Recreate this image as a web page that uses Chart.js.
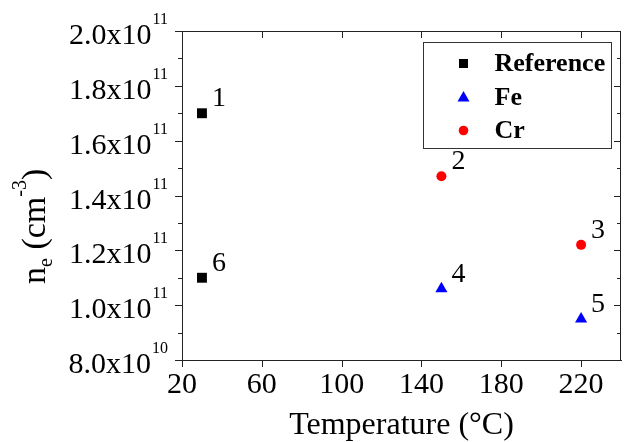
<!DOCTYPE html>
<html>
<head>
<meta charset="utf-8">
<title>Electron density vs temperature</title>
<script src="https://cdn.jsdelivr.net/npm/chart.js@4.4.0/dist/chart.umd.min.js"></script>
<style>
  html, body { margin: 0; padding: 0; background: #fff; overflow: hidden; }
  #wrap { width: 628px; height: 442px; }
</style>
</head>
<body>
<div id="wrap"><canvas id="densityChart" width="628" height="442"></canvas></div>
<script>
// Data
const refTemps = [30, 30];
const refDensity = [1.70e11, 1.10e11];
const refLabels = ['1', '6'];

const feTemps = [150, 220];
const feDensity = [1.06e11, 0.95e11];
const feLabels = ['4', '5'];

const crTemps = [150, 220];
const crDensity = [1.47e11, 1.22e11];
const crLabels = ['2', '3'];

// Labelled ticks
const xTickLabels = [20, 60, 100, 140, 180, 220];
const yTickLabels = [8e10, 1.0e11, 1.2e11, 1.4e11, 1.6e11, 1.8e11, 2.0e11];

const SERIF = '"Liberation Serif", "Times New Roman", serif';
const AXIS_COLOR = '#222';

function toPoints(xs, ys) {
    return xs.map((x, i) => ({ x: x, y: ys[i] }));
}

function drawMarker(ctx, style, x, y, color) {
    ctx.fillStyle = color;
    ctx.beginPath();
    if (style === 'rect') {
        ctx.rect(x - 4.5, y - 4.5, 9, 9);
    } else if (style === 'triangle') {
        ctx.moveTo(x, y - 6);
        ctx.lineTo(x + 6, y + 4.5);
        ctx.lineTo(x - 6, y + 4.5);
        ctx.closePath();
    } else {
        ctx.arc(x, y, 4.8, 0, Math.PI * 2);
    }
    ctx.fill();
}

// Frame, inward/outward tick marks, y tick labels with exponents, axis title
const framePlugin = {
    id: 'frame',
    afterDraw(chart) {
        const ctx = chart.ctx;
        const area = chart.chartArea;
        const xs = chart.scales.x;
        const ys = chart.scales.y;

        ctx.save();
        ctx.strokeStyle = AXIS_COLOR;
        ctx.lineWidth = 1;
        ctx.beginPath();
        ctx.moveTo(area.left, area.top + 0.5);
        ctx.lineTo(area.right, area.top + 0.5);
        ctx.moveTo(area.right - 0.5, area.top);
        ctx.lineTo(area.right - 0.5, area.bottom);

        xs.ticks.forEach(t => {
            const px = Math.round(xs.getPixelForValue(t.value)) + 0.5;
            const len = xTickLabels.includes(t.value) ? 7 : 4;
            ctx.moveTo(px, area.bottom);
            ctx.lineTo(px, area.bottom + len);
            ctx.moveTo(px, area.top);
            ctx.lineTo(px, area.top + len);
        });
        ys.ticks.forEach(t => {
            const py = Math.round(ys.getPixelForValue(t.value)) + 0.5;
            const len = Math.round(t.value / 1e10) % 2 === 0 ? 7 : 4;
            ctx.moveTo(area.left - len, py);
            ctx.lineTo(area.left, py);
            ctx.moveTo(area.right - len, py);
            ctx.lineTo(area.right, py);
        });
        ctx.stroke();

        // y tick labels like 2.0x10^11
        ctx.fillStyle = '#000';
        ctx.textBaseline = 'alphabetic';
        yTickLabels.forEach(v => {
            const py = ys.getPixelForValue(v);
            const exp = Math.floor(Math.log10(v) + 1e-9);
            const mant = (v / Math.pow(10, exp)).toFixed(1);
            ctx.font = '16px ' + SERIF;
            ctx.textAlign = 'right';
            const supRight = area.left - 14;
            const supW = ctx.measureText(String(exp)).width;
            ctx.fillText(String(exp), supRight, py - 7);
            ctx.font = '30px ' + SERIF;
            ctx.fillText(mant + 'x10', supRight - supW - 1, py + 13);
        });

        // y axis title: n_e (cm^-3)
        ctx.translate(45, 284);
        ctx.rotate(-Math.PI / 2);
        ctx.textAlign = 'left';
        const big = '34px ' + SERIF;
        const small = '20px ' + SERIF;
        let x = 0;
        ctx.font = big;
        ctx.fillText('n', x, 0);
        x += ctx.measureText('n').width;
        ctx.font = small;
        ctx.fillText('e', x, 7);
        x += ctx.measureText('e').width;
        ctx.font = big;
        ctx.fillText(' (cm', x, 0);
        x += ctx.measureText(' (cm').width;
        ctx.font = small;
        ctx.fillText('-3', x, -19);
        x += ctx.measureText('-3').width;
        ctx.font = big;
        ctx.fillText(')', x, 0);
        ctx.restore();
    }
};

// Point numbers next to each marker
const pointLabelPlugin = {
    id: 'pointLabels',
    afterDatasetsDraw(chart) {
        const ctx = chart.ctx;
        ctx.save();
        ctx.fillStyle = '#000';
        ctx.font = '28px ' + SERIF;
        ctx.textAlign = 'left';
        ctx.textBaseline = 'alphabetic';
        chart.data.datasets.forEach((ds, i) => {
            const meta = chart.getDatasetMeta(i);
            meta.data.forEach((pt, j) => {
                ctx.fillText(ds.pointLabels[j], pt.x + 10, pt.y - 7);
            });
        });
        ctx.restore();
    }
};

// Boxed legend in the upper right corner
const boxLegendPlugin = {
    id: 'boxLegend',
    afterDraw(chart) {
        const ctx = chart.ctx;
        const box = { left: 423.5, top: 42.5, width: 188, height: 106 };
        ctx.save();
        ctx.fillStyle = '#fff';
        ctx.fillRect(box.left, box.top, box.width, box.height);
        ctx.strokeStyle = '#333';
        ctx.lineWidth = 1;
        ctx.strokeRect(box.left, box.top, box.width, box.height);
        ctx.font = 'bold 26px ' + SERIF;
        ctx.textAlign = 'left';
        ctx.textBaseline = 'middle';
        chart.data.datasets.forEach((ds, i) => {
            const y = box.top + 21 + i * 33.5;
            drawMarker(ctx, ds.pointStyle, box.left + 40, y, ds.backgroundColor);
            ctx.fillStyle = '#000';
            ctx.fillText(ds.label, box.left + 71, y + 1);
        });
        ctx.restore();
    }
};

new Chart(document.getElementById('densityChart'), {
    type: 'scatter',
    data: {
        datasets: [
            {
                label: 'Reference',
                data: toPoints(refTemps, refDensity),
                pointLabels: refLabels,
                pointStyle: 'rect',
                pointRadius: 7,
                backgroundColor: '#000000',
                borderColor: '#000000',
                borderWidth: 0
            },
            {
                label: 'Fe',
                data: toPoints(feTemps, feDensity),
                pointLabels: feLabels,
                pointStyle: 'triangle',
                pointRadius: 7,
                backgroundColor: '#0000ff',
                borderColor: '#0000ff',
                borderWidth: 0
            },
            {
                label: 'Cr',
                data: toPoints(crTemps, crDensity),
                pointLabels: crLabels,
                pointStyle: 'circle',
                pointRadius: 5,
                backgroundColor: '#ff0000',
                borderColor: '#ff0000',
                borderWidth: 0
            }
        ]
    },
    options: {
        responsive: false,
        animation: false,
        layout: {
            padding: { top: 31, right: 0, bottom: 0, left: 0 }
        },
        plugins: {
            legend: { display: false },
            tooltip: { enabled: false }
        },
        scales: {
            x: {
                type: 'linear',
                min: 20,
                max: 240,
                afterFit: function(scale) { scale.height = 82; },
                border: { display: true, color: AXIS_COLOR, width: 1 },
                grid: { display: false, drawTicks: false },
                ticks: {
                    stepSize: 20,
                    maxTicksLimit: 20,
                    padding: 7,
                    color: '#000',
                    maxRotation: 0,
                    autoSkip: false,
                    font: { family: SERIF, size: 30 },
                    callback: function(value) {
                        return xTickLabels.includes(value) ? String(value) : null;
                    }
                },
                title: {
                    display: true,
                    text: 'Temperature (°C)',
                    color: '#000',
                    font: { family: SERIF, size: 32, lineHeight: 1 },
                    padding: { top: 0, bottom: 0 }
                }
            },
            y: {
                type: 'linear',
                min: 8e10,
                max: 2e11,
                afterFit: function(scale) { scale.width = 182; },
                border: { display: true, color: AXIS_COLOR, width: 1 },
                grid: { display: false, drawTicks: false },
                ticks: {
                    display: false,
                    stepSize: 1e10,
                    maxTicksLimit: 20
                }
            }
        }
    },
    plugins: [framePlugin, pointLabelPlugin, boxLegendPlugin]
});
</script>
</body>
</html>
